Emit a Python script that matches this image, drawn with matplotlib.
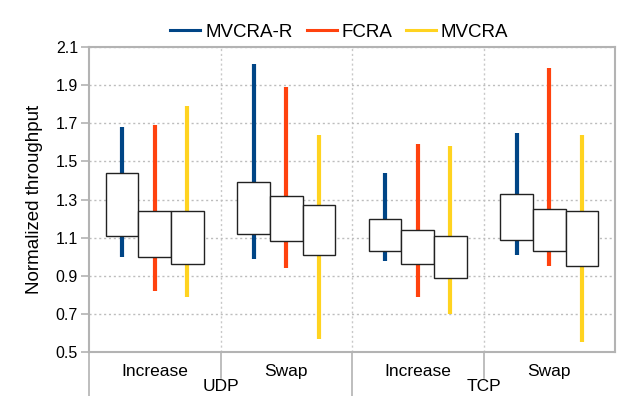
import numpy as np
import matplotlib.pyplot as plt
import matplotlib.transforms as mtransforms

plt.rcParams['font.family'] = ['Liberation Sans', 'DejaVu Sans']

# categories along the x axis
scenarios = ['Increase', 'Swap', 'Increase', 'Swap']
protocols = ['UDP', 'TCP']
series = ['MVCRA-R', 'FCRA', 'MVCRA']
colors = ['#004586', '#ff420e', '#ffd320']

# whisker ranges (min, max) per series, one entry per scenario
low = {
    'MVCRA-R': [1.00, 0.99, 0.98, 1.01],
    'FCRA':    [0.82, 0.94, 0.79, 0.95],
    'MVCRA':   [0.79, 0.57, 0.70, 0.55],
}
high = {
    'MVCRA-R': [1.68, 2.01, 1.44, 1.65],
    'FCRA':    [1.69, 1.89, 1.59, 1.99],
    'MVCRA':   [1.79, 1.64, 1.58, 1.64],
}
# box ranges (bottom, top)
box_lo = {
    'MVCRA-R': [1.11, 1.12, 1.03, 1.09],
    'FCRA':    [1.00, 1.08, 0.96, 1.03],
    'MVCRA':   [0.96, 1.01, 0.89, 0.95],
}
box_hi = {
    'MVCRA-R': [1.44, 1.39, 1.20, 1.33],
    'FCRA':    [1.24, 1.32, 1.14, 1.25],
    'MVCRA':   [1.24, 1.27, 1.11, 1.24],
}

fig = plt.figure(figsize=(6.19, 3.96), dpi=100)
ax = fig.add_axes([89/619, 44/396, 526/619, 305/396])

gray = '#b3b3b3'
centers = np.arange(len(scenarios)) + 0.5
width = 0.248

for i, name in enumerate(series):
    x = centers + (i - 1) * width
    ax.vlines(x, low[name], high[name], color=colors[i], linewidth=3.0, zorder=2)
    hb = np.array(box_hi[name])
    lb = np.array(box_lo[name])
    ax.bar(x, hb - lb, bottom=lb, width=width, facecolor='white',
           edgecolor='#222222', linewidth=1.0, zorder=3)
    # legend proxies
    ax.plot([], [], color=colors[i], linewidth=2.2, label=name)

ax.set_xlim(0, 4)
ax.set_ylim(0.5, 2.1)
ax.set_yticks(np.arange(0.5, 2.11, 0.2))
ax.set_yticklabels(['%.1f' % v for v in np.arange(0.5, 2.11, 0.2)], fontsize=11.5)
ax.set_xticks([])
ax.tick_params(axis='y', direction='out', length=6, color=gray, width=1.2, pad=2)

ax.grid(axis='y', color='#bdbdbd', linestyle=(0, (1.5, 2)), linewidth=1.0, zorder=0)
for xs in [1, 2, 3]:
    ax.axvline(xs, color='#c8c8c8', linestyle=(0, (1.5, 2)), linewidth=1.0, zorder=0)
for sp in ax.spines.values():
    sp.set_color(gray)
    sp.set_linewidth(1.5)

ax.set_ylabel('Normalized throughput', fontsize=13.5, labelpad=9)

# category axis: separators and two-level labels below the plot
trans = mtransforms.blended_transform_factory(ax.transData, ax.transAxes)
below = -26 / 305
for xs, depth in [(0, -50/305), (1, below), (2, -50/305), (3, below)]:
    ax.plot([xs, xs], [0, depth], color=gray, linewidth=1.2, transform=trans,
            clip_on=False)
for c, s in zip(centers, scenarios):
    ax.text(c, -12/305, s, transform=trans, ha='center', va='top', fontsize=12.5)
for c, p in zip([1, 3], protocols):
    ax.text(c, -42/305, p, transform=trans, ha='center', va='bottom', fontsize=12.5)

ax.legend(loc='lower center', bbox_to_anchor=(0.476, 0.99), ncol=3, frameon=False,
          fontsize=13.5, handlelength=1.6, handletextpad=0.25, columnspacing=0.75,
          borderaxespad=0.1)

fig.savefig('out.png', dpi=100)
